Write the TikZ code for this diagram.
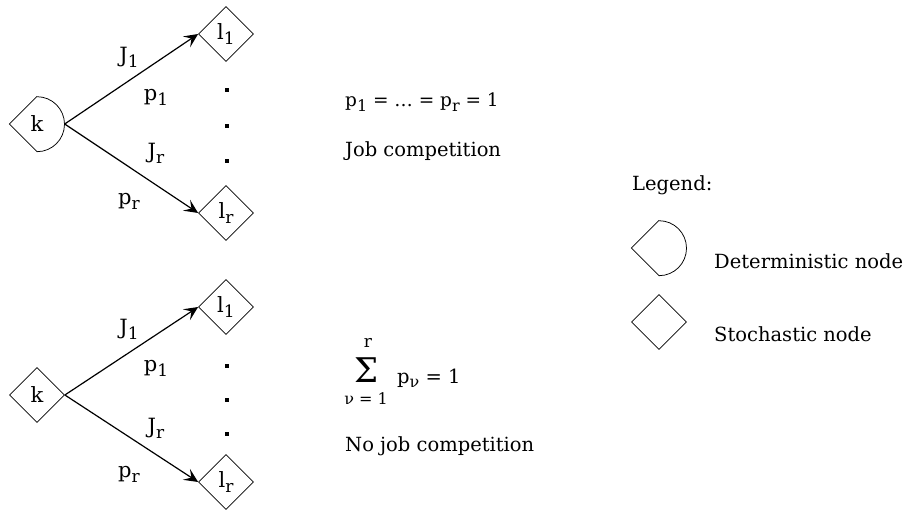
\documentclass[tikz,border=0pt]{standalone}
\usepackage{fontspec}
\setmainfont{DejaVu Serif}
\usetikzlibrary{shapes.geometric,arrows.meta}
\newcommand\lowsub[1]{\raisebox{-0.45ex}{\fontsize{17}{17}\selectfont #1}}
\newcommand\lowsubs[1]{\raisebox{-0.45ex}{\fontsize{16}{16}\selectfont #1}}
\tikzset{
  stoch/.style={shape=diamond, draw, line width=0.75pt, minimum size=55pt, inner sep=0pt, font=\fontsize{21}{21}\selectfont},
  detbase/.style={shape=diamond, draw=none, minimum size=55pt, inner sep=0pt, font=\fontsize{21}{21}\selectfont},
  arrowtip/.tip={Stealth[length=14pt,width=13pt,inset=6pt]},
  conn/.style={line width=1.2pt, -arrowtip},
  lbl/.style={font=\fontsize{21}{21}\selectfont, inner sep=0pt},
  txt/.style={font=\fontsize{19.5}{19.5}\selectfont, inner sep=0pt, anchor=base west},
  dotsq/.style={fill=black}
}
\newcommand\detshape[1]{\draw[line width=0.75pt] (#1.north) -- (#1.west) -- (#1.south) arc (-90:90:27.5pt);}
\begin{document}
\begin{tikzpicture}[x=1pt,y=-1pt]
\useasboundingbox (0,0) rectangle (912,510);
% ---------- top group ----------
\node[detbase] (ka) at (37,124) {k};
\detshape{ka}
\node[stoch] (la1) at (226,34) {l\lowsub{1}};
\node[stoch] (lar) at (226,213) {l\lowsub{r}};
\draw[conn] (ka.east) -- (la1.west);
\draw[conn] (ka.east) -- (lar.west);
\node[lbl] (ja1) at (129,57) {J\lowsub{1}};
\node[lbl] (pa1) at (156,97) {p\lowsub{1}};
\node[lbl] (jar) at (156,153) {J\lowsub{r}};
\node[lbl] (par) at (129,201) {p\lowsub{r}};
\foreach \yy in {90,126,161} \fill[dotsq] (225,\yy-2) rectangle ++(4,4);
\node[txt, font=\fontsize{18.5}{18.5}\selectfont] (eqa) at (345,107) {p\lowsubs{1} = … = p\lowsubs{r} = 1};
\node[txt] (jca) at (345,157) {Job competition};
% ---------- bottom group ----------
\node[stoch] (kb) at (37,395) {k};
\node[stoch] (lb1) at (226,307) {l\lowsub{1}};
\node[stoch] (lbr) at (226,482) {l\lowsub{r}};
\draw[conn] (kb.east) -- (lb1.west);
\draw[conn] (kb.east) -- (lbr.west);
\node[lbl] (jb1) at (129,329) {J\lowsub{1}};
\node[lbl] (pb1) at (156,368) {p\lowsub{1}};
\node[lbl] (jbr) at (156,428) {J\lowsub{r}};
\node[lbl] (pbr) at (129,474) {p\lowsub{r}};
\foreach \yy in {366,400,434} \fill[dotsq] (225,\yy-2) rectangle ++(4,4);
\node[inner sep=0pt, font=\fontsize{34}{34}\selectfont] (sig) at (367,370) {Σ};
\node[inner sep=0pt, font=\fontsize{17}{17}\selectfont] (sigtop) at (368,343) {r};
\node[inner sep=0pt, anchor=base, font=\fontsize{16}{16}\selectfont] (sigbot) at (366,404) {ν = 1};
\node[txt] (eqb) at (397,383) {p\lowsubs{ν} = 1};
\node[txt] (njc) at (345,451) {No job competition};
% ---------- legend ----------
\node[txt] (leg) at (632,191) {Legend:};
\node[detbase] (legd) at (659,248) {};
\detshape{legd}
\node[txt] (legdt) at (714,269) {Deterministic node};
\node[stoch] (legs) at (659,322) {};
\node[txt] (legst) at (714,341) {Stochastic node};
\end{tikzpicture}
\end{document}
